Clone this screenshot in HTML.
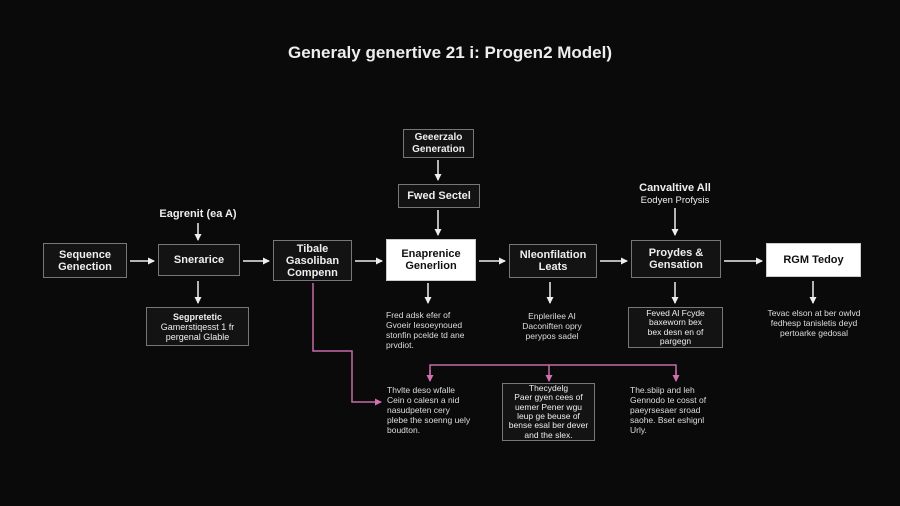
<!DOCTYPE html>
<html><head><meta charset="utf-8"><style>
body{margin:0;width:900px;height:506px;background:#0b0a0b;position:relative;overflow:hidden;font-family:"Liberation Sans",sans-serif;color:#eee}
.b{position:absolute;border:1.5px solid #777;background:#141314;display:flex;align-items:center;justify-content:center;text-align:center;font-size:11px;font-weight:bold;line-height:12px;box-sizing:border-box}
.w{background:#fff;color:#111;border-color:#ccc}
.t{position:absolute;font-size:8.5px;line-height:10px;color:#ddd}
.l{position:absolute;font-size:11px;font-weight:bold;text-align:center}
</style></head><body>
<div class="l" style="left:0;width:900px;top:43px;font-size:17px">Generaly genertive 21 i: Progen2 Model)</div>

<svg width="900" height="506" style="position:absolute;left:0;top:0">
<defs>
<marker id="a" markerWidth="7" markerHeight="7" refX="6" refY="3.5" orient="auto" markerUnits="userSpaceOnUse"><path d="M0,0 L7,3.5 L0,7z" fill="#eee"/></marker>
<marker id="p" markerWidth="7" markerHeight="7" refX="6" refY="3.5" orient="auto" markerUnits="userSpaceOnUse"><path d="M0,0 L7,3.5 L0,7z" fill="#d070b0"/></marker>
</defs>
<g stroke="#eee" stroke-width="1.5" marker-end="url(#a)">
<line x1="130" y1="261" x2="154" y2="261"/>
<line x1="243" y1="261" x2="269" y2="261"/>
<line x1="355" y1="261" x2="382" y2="261"/>
<line x1="479" y1="261" x2="505" y2="261"/>
<line x1="600" y1="261" x2="627" y2="261"/>
<line x1="724" y1="261" x2="762" y2="261"/>
<line x1="198" y1="223" x2="198" y2="240"/>
<line x1="198" y1="281" x2="198" y2="303"/>
<line x1="438" y1="160" x2="438" y2="180"/>
<line x1="438" y1="210" x2="438" y2="235"/>
<line x1="675" y1="208" x2="675" y2="235"/>
<line x1="428" y1="283" x2="428" y2="303"/>
<line x1="550" y1="282" x2="550" y2="303"/>
<line x1="675" y1="282" x2="675" y2="303"/>
<line x1="813" y1="281" x2="813" y2="303"/>
</g>
<g stroke="#c76aa8" stroke-width="1.5" fill="none">
<polyline points="313,283 313,351 352,351 352,402 381,402" marker-end="url(#p)"/>
<polyline points="430,378 430,365 676,365 676,378"/>
<line x1="430" y1="370" x2="430" y2="381" marker-end="url(#p)"/>
<line x1="549" y1="365" x2="549" y2="381" marker-end="url(#p)"/>
<line x1="676" y1="370" x2="676" y2="381" marker-end="url(#p)"/>
</g>
</svg>

<div class="b" style="left:43px;top:243px;width:84px;height:35px">Sequence<br>Genection</div>
<div class="b" style="left:158px;top:244px;width:82px;height:32px">Snerarice</div>
<div class="b" style="left:273px;top:240px;width:79px;height:41px">Tibale<br>Gasoliban<br>Compenn</div>
<div class="b w" style="left:386px;top:239px;width:90px;height:42px">Enaprenice<br>Generlion</div>
<div class="b" style="left:509px;top:244px;width:88px;height:34px">Nleonfilation<br>Leats</div>
<div class="b" style="left:631px;top:240px;width:90px;height:38px">Proydes &amp;<br>Gensation</div>
<div class="b w" style="left:766px;top:243px;width:95px;height:34px">RGM Tedoy</div>
<div class="b" style="left:403px;top:129px;width:71px;height:29px;font-size:10px">Geeerzalo<br>Generation</div>
<div class="b" style="left:398px;top:184px;width:82px;height:24px">Fwed Sectel</div>
<div class="b" style="left:146px;top:307px;width:103px;height:39px;font-size:9px;font-weight:normal;line-height:10px"><span><b>Segpretetic</b><br>Gamerstiqesst 1 fr<br>pergenal Glable</span></div>
<div class="b" style="left:628px;top:307px;width:95px;height:41px;font-size:8.5px;font-weight:normal;line-height:9.5px">Feved Al Fcyde<br>baxeworn bex<br>bex desn en of<br>pargegn</div>
<div class="b" style="left:502px;top:383px;width:93px;height:58px;font-size:8.5px;font-weight:normal;line-height:9.3px">Thecydelg<br>Paer gyen cees of<br>uemer Pener wgu<br>leup ge beuse of<br>bense esal ber dever<br>and the slex.</div>

<div class="l" style="left:138px;width:120px;top:208px">Eagrenit (ea A)</div>
<div class="l" style="left:610px;width:130px;top:182px">Canvaltive All<br><span style="font-weight:normal;font-size:9.5px">Eodyen Profysis</span></div>

<div class="t" style="left:386px;top:310px">Fred adsk efer of<br>Gvoeir Iesoeynoued<br>stonfin pcelde td ane<br>prvdiot.</div>
<div class="t" style="left:512px;top:311px;text-align:center;width:80px">Enplerilee AI<br>Daconiften opry<br>perypos sadel</div>
<div class="t" style="left:762px;top:308px;text-align:center;width:104px">Tevac elson at ber owlvd<br>fedhesp tanisletis deyd<br>pertoarke gedosal</div>
<div class="t" style="left:387px;top:385px">Thvlte deso wfalle<br>Cein o calesn a nid<br>nasudpeten cery<br>plebe the soenng uely<br>boudton.</div>
<div class="t" style="left:630px;top:385px">The.sbiip and leh<br>Gennodo te cosst of<br>paeyrsesaer sroad<br>saohe. Bset eshignl<br>Urly.</div>
</body></html>
